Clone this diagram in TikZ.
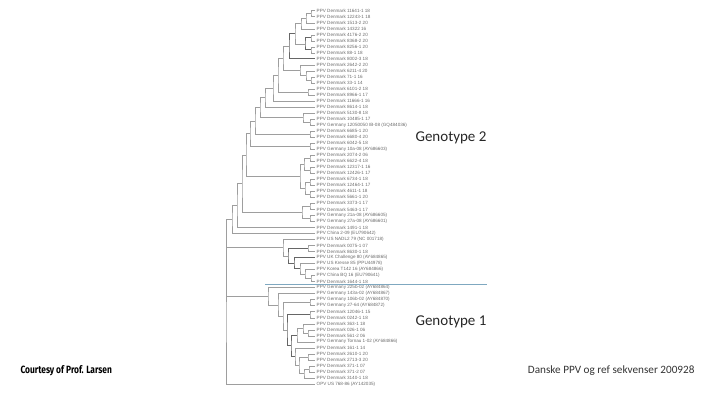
\documentclass[tikz,border=0pt]{standalone}
\usepackage{fontspec}
\setmainfont{Liberation Sans}
\newfontfamily\slidefont{Carlito}
\newfontfamily\creditfont[FakeStretch=0.8]{Fira Sans}
\usepackage{tikz}
\usetikzlibrary{calc}
\usetikzlibrary{positioning}
\definecolor{sepblue}{HTML}{7FA8C0}
\tikzstyle{branch} = [draw=black!38, line width=0.45pt]
\tikzstyle{heavy} = [draw=black!60, line width=0.8pt]
\tikzstyle{strain} = [anchor=west, inner ysep=0pt, inner xsep=1.5pt, font=\fontsize{4.6}{5}\selectfont, text=black!58]
\tikzstyle{genotype} = [anchor=west, font=\slidefont\fontsize{15}{18}\selectfont, text=black!85]
\tikzstyle{sepline} = [draw=sepblue, line width=0.7pt]
% bracket joining two children at x = #3
\newcommand{\clade}[5][branch]{%
  \path let \p1 = ($(#4)!.5!(#5)$) in coordinate (#2) at (#3pt,\y1);
  \draw[#1] (#4) -| (#2) |- (#5);}

\begin{document}
\begin{tikzpicture}[x=1pt, y=-1pt]
\useasboundingbox (0,0) rectangle (704,394);

% leaves
\foreach \name [count=\i] in {
  PPV Denmark 11641-1 18, PPV Denmark 12243-1 18, PPV Denmark 1513-2 20,
  PPV Denmark 14322 16, PPV Denmark 4176-2 20, PPV Denmark 8368-2 20,
  PPV Denmark 8256-1 20, PPV Denmark 88-1 18, PPV Denmark 8002-3 18,
  PPV Denmark 2642-2 20, PPV Denmark 6211-4 20, PPV Denmark 71-1 16,
  PPV Denmark 33-1 14, PPV Denmark 6101-2 18, PPV Denmark 8966-1 17,
  PPV Denmark 11666-1 16, PPV Denmark 8614-1 18, PPV Denmark 5130-8 18,
  PPV Denmark 10485-1 17, PPV Germany 12050050 IB-08 (GQ484036),
  PPV Denmark 6685-1 20, PPV Denmark 6680-4 20, PPV Denmark 6042-5 18,
  PPV Germany 10a-08 (AY686603), PPV Denmark 2074-2 06, PPV Denmark 6622-4 18,
  PPV Denmark 12317-1 16, PPV Denmark 12426-1 17, PPV Denmark 6734-1 18,
  PPV Denmark 12464-1 17, PPV Denmark 4611-1 18, PPV Denmark 5661-1 20,
  PPV Denmark 3373-1 17, PPV Denmark 5463-1 17, PPV Germany 21a-08 (AY686605),
  PPV Germany 27a-08 (AY686601), PPV Denmark 1491-1 18, PPV China 2-09 (EU790642),
  PPV US NADL2 79 (NC 001718), PPV Denmark 0075-1 07, PPV Denmark 8630-1 18,
  PPV UK Challenge 80 (AY684865), PPV US Kresse 85 (PPU44978),
  PPV Korea T142 16 (AY684866), PPV China BQ 16 (EU790641), PPV Denmark 1644-1 18,
  PPV Germany 225b-02 (AY684864), PPV Germany 143a-02 (AY684867),
  PPV Germany 106b-02 (AY684870), PPV Germany 27-64 (AY684872),
  PPV Denmark 12046-1 15, PPV Denmark 0242-1 18, PPV Denmark 363-1 18,
  PPV Denmark 026-1 06, PPV Denmark 561-2 06, PPV Germany Tornau 1-02 (AY684866),
  PPV Denmark 161-1 14, PPV Denmark 2610-1 20, PPV Denmark 2713-3 20,
  PPV Denmark 371-1 07, PPV Denmark 371-2 07, PPV Denmark 3140-1 18,
  OPV US 768-86 (AY142035)}
  \node[strain] (l\i) at (315,{4.68+6.02*\i}) {\name};

% genotype 2
\clade{c12}{311}{l1.west}{l2.west}
\clade{c13}{306}{c12}{l3.west}
\clade{c14}{301}{c13}{l4.west}
\clade{c56}{311}{l5.west}{l6.west}
\clade{c78}{311}{l7.west}{l8.west}
\clade[heavy]{c58}{305}{c56}{c78}
\clade{c18}{295}{c14}{c58}
\clade[heavy]{c19}{289}{c18}{l9.west}
\clade{c1213}{311}{l12.west}{l13.west}
\clade{c1113}{306}{l11.west}{c1213}
\clade{c1013}{300}{l10.west}{c1113}
\clade{c113}{283}{c19}{c1013}
\clade{c1415}{308}{l14.west}{l15.west}
\clade{c115}{278}{c113}{c1415}
\clade{c116}{273}{c115}{l16.west}
\clade{c117}{265}{c116}{l17.west}
\clade{c1920}{310}{l19.west}{l20.west}
\clade{c1820}{303}{l18.west}{c1920}
\clade{c120}{260}{c117}{c1820}
\clade{c2122}{310}{l21.west}{l22.west}
\clade{c122}{255}{c120}{c2122}
\clade{c2324}{310}{l23.west}{l24.west}
\clade{c124}{250}{c122}{c2324}
\clade{c2526}{310}{l25.west}{l26.west}
\clade{c2728}{310}{l27.west}{l28.west}
\clade{c2528}{304}{c2526}{c2728}
\clade{c2930}{310}{l29.west}{l30.west}
\clade{c3132}{310}{l31.west}{l32.west}
\clade{c2932}{305}{c2930}{c3132}
\clade{c2532}{300}{c2528}{c2932}
\clade{c132}{246}{c124}{c2532}
\clade{c3334}{310}{l33.west}{l34.west}
\clade{c3536}{310}{l35.west}{l36.west}
\clade{c3336}{302}{c3334}{c3536}
\clade{c136}{242}{c132}{c3336}
\clade{c137}{237}{c136}{l37.west}
\clade{c138}{232}{c137}{l38.west}
\clade{c4041}{308}{l40.west}{l41.west}
\clade{c4546}{311}{l45.west}{l46.west}
\clade{c4446}{305}{l44.west}{c4546}
\clade{c4346}{300}{l43.west}{c4446}
\clade[heavy]{c4246}{294}{l42.west}{c4346}
\clade[heavy]{c4046}{288}{c4041}{c4246}
\clade{c3946}{283}{l39.west}{c4046}

% genotype 1
\clade{c4950}{310}{l49.west}{l50.west}
\clade{c5152}{310}{l51.west}{l52.west}
\clade{c5455}{308}{l54.west}{l55.west}
\clade{c5355}{303}{l53.west}{c5455}
\clade{c5356}{297}{c5355}{l56.west}
\clade{c5859}{308}{l58.west}{l59.west}
\clade{c6061}{309}{l60.west}{l61.west}
\clade{c6062}{304}{c6061}{l62.west}
\clade{c5862}{299}{c5859}{c6062}
\clade{c5762}{295}{l57.west}{c5862}
\clade[heavy]{c5362}{291}{c5356}{c5762}
\clade[heavy]{c5162}{287}{c5152}{c5362}
\clade{c4962}{283}{c4950}{c5162}
\clade{c4862}{278}{l48.west}{c4962}
\clade{c4762}{268}{l47.west}{c4862}

% root
\clade{root}{226}{c138}{l63.west}
\draw[branch] (root) |- (c3946);
\draw[branch] (root) |- (c4762);

\draw[sepline] (265,284.6) -- (487,284.6);

\node[genotype] (g2) at (412,138) {Genotype 2};
\node[genotype] (g1) at (412,322) {Genotype 1};
\node[anchor=west, font=\creditfont\bfseries\fontsize{10.5}{12}\selectfont] (credit) at (17,371) {Courtesy of Prof. Larsen};
\node[anchor=east, font=\slidefont\fontsize{11.2}{13}\selectfont, text=black!80] (title) at (698,371) {Danske PPV og ref sekvenser 200928};
\end{tikzpicture}
\end{document}
